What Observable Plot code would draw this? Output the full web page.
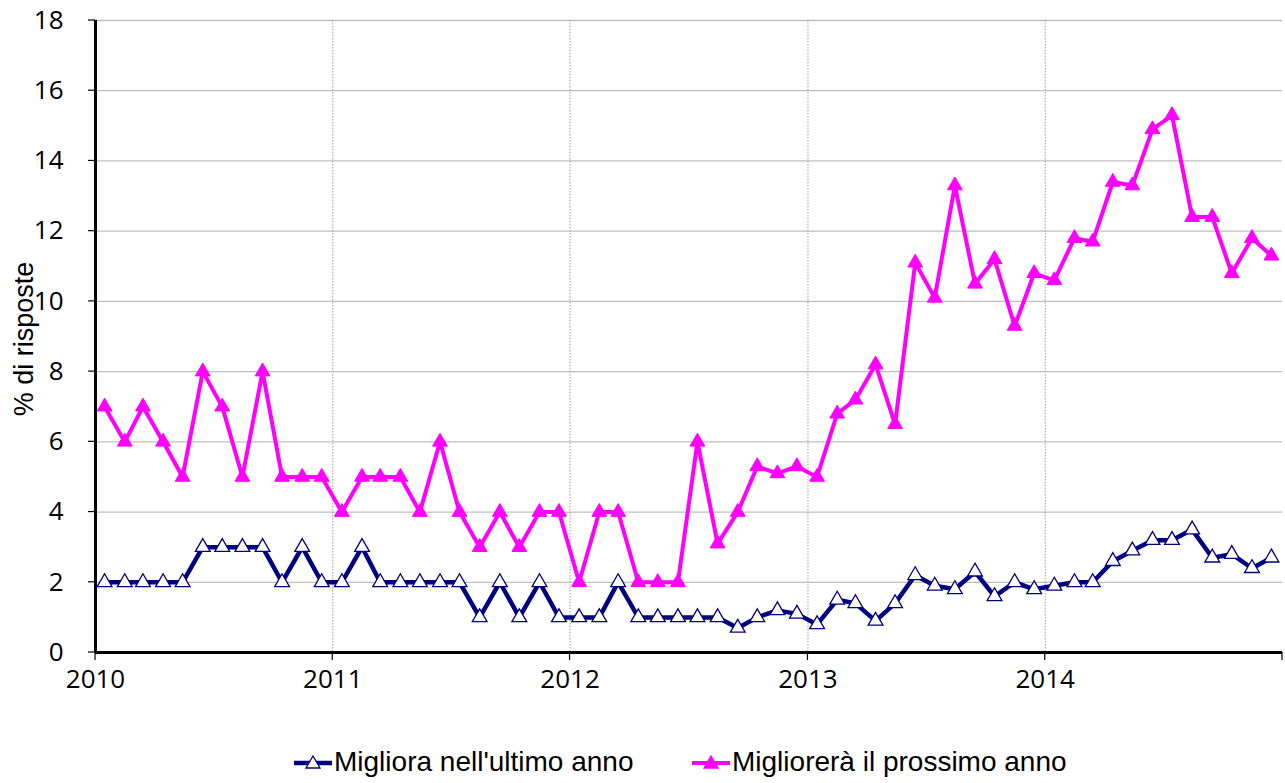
<!DOCTYPE html>
<html>
<head>
<meta charset="utf-8">
<script src="https://cdn.jsdelivr.net/npm/d3@7"></script>
<script src="https://cdn.jsdelivr.net/npm/@observablehq/plot@0.6"></script>
<style>
  html, body { margin: 0; padding: 0; background: #fff; }
  #chart { position: relative; width: 1285px; height: 783px; overflow: hidden; }
  #chart svg text { font-size: 26px; font-family: "Open Sans", sans-serif; fill: #000; }
  .legend-item { position: absolute; top: 744px; height: 36px; display: flex; align-items: center;
    font-family: "Liberation Sans", Arial, sans-serif; font-size: 28px; color: #000; white-space: nowrap; }
  .legend-item svg { display: block; margin-right: 2px; }
  #ylabel { position: absolute; left: 24px; top: 339px; transform: translate(-50%, -50%) rotate(-90deg);
    font-family: "Liberation Sans", Arial, sans-serif; font-size: 27px; white-space: nowrap; color: #000; }
</style>
</head>
<body>
<div id="chart"></div>
<script>
// Monthly survey results, Jan 2010 – Dec 2014
const startYear = 2010;
const yearTicks = [2010, 2011, 2012, 2013, 2014, 2015];
const yearLabels = [2010, 2011, 2012, 2013, 2014];
const yTicks = [0, 2, 4, 6, 8, 10, 12, 14, 16, 18];
const seriesNames = ["Migliora nell'ultimo anno", "Migliorerà il prossimo anno"];
const yTitle = "% di risposte";

const migliora = [
  2, 2, 2, 2, 2, 3, 3, 3, 3, 2, 3, 2,          // 2010
  2, 3, 2, 2, 2, 2, 2, 1, 2, 1, 2, 1,          // 2011
  1, 1, 2, 1, 1, 1, 1, 1, 0.7, 1.0, 1.2, 1.1,  // 2012
  0.8, 1.5, 1.4, 0.9, 1.4, 2.2, 1.9, 1.8, 2.3, 1.6, 2.0, 1.8, // 2013
  1.9, 2.0, 2.0, 2.6, 2.9, 3.2, 3.2, 3.5, 2.7, 2.8, 2.4, 2.7  // 2014
];
const migliorera = [
  7, 6, 7, 6, 5, 8, 7, 5, 8, 5, 5, 5,          // 2010
  4, 5, 5, 5, 4, 6, 4, 3, 4, 3, 4, 4,          // 2011
  2, 4, 4, 2, 2, 2, 6, 3.1, 4, 5.3, 5.1, 5.3,  // 2012
  5.0, 6.8, 7.2, 8.2, 6.5, 11.1, 10.1, 13.3, 10.5, 11.2, 9.3, 10.8, // 2013
  10.6, 11.8, 11.7, 13.4, 13.3, 14.9, 15.3, 12.4, 12.4, 10.8, 11.8, 11.3 // 2014
];

const colors = ["#000080", "#FF00FF"];

const monthDate = (i) => new Date(Date.UTC(startYear + Math.floor(i / 12), i % 12, 15));
const data1 = migliora.map((v, i) => ({date: monthDate(i), value: v}));
const data2 = migliorera.map((v, i) => ({date: monthDate(i), value: v}));
const yearDates = yearTicks.map(y => new Date(Date.UTC(y, 0, 1)));
const labelDates = yearLabels.map(y => new Date(Date.UTC(y, 0, 1)));

const triR = 5.5;

const chart = Plot.plot({
  width: 1285,
  height: 710,
  marginLeft: 95,
  marginRight: 3,
  marginTop: 20,
  marginBottom: 58,
  style: {fontFamily: "'Open Sans', sans-serif", fontSize: "26px", color: "#000", background: "#fff"},
  x: {type: "utc", domain: [yearDates[0], yearDates[yearDates.length - 1]], axis: null},
  y: {domain: [0, 18], axis: null},
  marks: [
    Plot.gridY(yTicks.slice(1), {stroke: "#bfbfbf", strokeOpacity: 1, strokeWidth: 1.3}),
    Plot.gridX(yearDates.slice(1, -1), {stroke: "#a0a0a0", strokeOpacity: 1, strokeWidth: 1, strokeDasharray: "1.5,1.5"}),
    Plot.text(yTicks, {x: () => yearDates[0], y: d => d, text: d => String(d), textAnchor: "end", dx: -32, fontSize: 26}),
    Plot.text(labelDates, {x: d => d, text: d => String(d.getUTCFullYear()), frameAnchor: "bottom", lineAnchor: "top", dy: 17, fontSize: 26}),
    Plot.ruleX([yearDates[0]], {stroke: "#000", strokeWidth: 3}),
    Plot.ruleY([0], {stroke: "#000", strokeWidth: 3}),
    Plot.line(data1, {x: "date", y: "value", stroke: colors[0], strokeWidth: 4.5}),
    Plot.dot(data1, {x: "date", y: "value", symbol: "triangle", r: triR, fill: "#fff", stroke: colors[0], strokeWidth: 1.3}),
    Plot.line(data2, {x: "date", y: "value", stroke: colors[1], strokeWidth: 4}),
    Plot.dot(data2, {x: "date", y: "value", symbol: "triangle", r: triR, fill: colors[1], stroke: colors[1], strokeWidth: 1})
  ]
});

const container = document.getElementById("chart");
container.appendChild(chart);

// Tick marks placed with the chart's own scales
const sx = chart.scale("x"), sy = chart.scale("y");
const ns = "http://www.w3.org/2000/svg";
const tg = document.createElementNS(ns, "g");
tg.setAttribute("stroke", "#000");
tg.setAttribute("stroke-width", "1.2");
const x0 = sx.apply(yearDates[0]), y0 = sy.apply(0);
yTicks.forEach(v => {
  const l = document.createElementNS(ns, "line");
  const y = sy.apply(v);
  l.setAttribute("x1", x0 - 7); l.setAttribute("x2", x0);
  l.setAttribute("y1", y); l.setAttribute("y2", y);
  tg.appendChild(l);
});
yearDates.forEach(d => {
  const l = document.createElementNS(ns, "line");
  const x = sx.apply(d);
  l.setAttribute("x1", x); l.setAttribute("x2", x);
  l.setAttribute("y1", y0); l.setAttribute("y2", y0 + 8);
  tg.appendChild(l);
});
chart.appendChild(tg);

const ylab = document.createElement("div");
ylab.id = "ylabel";
ylab.textContent = yTitle;
container.appendChild(ylab);

const legendLeft = [294, 692];
seriesNames.forEach((name, k) => {
  const item = document.createElement("div");
  item.className = "legend-item";
  item.style.left = legendLeft[k] + "px";
  const filled = k === 1;
  item.innerHTML = `<svg width="38" height="20"><line x1="0" y1="11" x2="38" y2="11" stroke="${colors[k]}" stroke-width="${filled ? 4 : 4.5}"/>` +
    `<path d="M19,4 L26,16 L12,16 Z" fill="${filled ? colors[k] : "#fff"}" stroke="${colors[k]}" stroke-width="1.3"/></svg>` +
    `<span>${name}</span>`;
  container.appendChild(item);
});
</script>
</body>
</html>
